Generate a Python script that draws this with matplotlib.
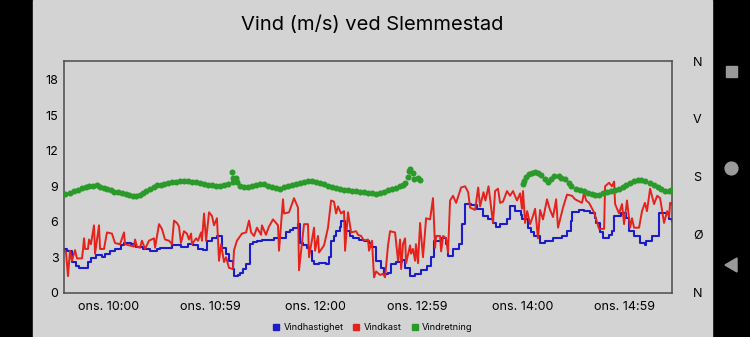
import matplotlib
matplotlib.use("Agg")
import matplotlib.pyplot as plt
from matplotlib.lines import Line2D
from matplotlib.patches import Rectangle, Circle, Polygon

plt.rcParams['font.family'] = ['Inter', 'DejaVu Sans']

# minutes relative to 10:00 (wednesday)
speed_t = [-26, -24, -21, -19, -17, -13, -12, -10, -7, -4, -2, 1, 4, 7, 9, 13, 16, 20, 24, 28,
           30, 33, 37, 42, 46, 49, 52, 55, 57, 60, 63, 66, 68, 70, 72, 73, 75, 76, 78, 80,
           82, 84, 86, 89, 92, 96, 100, 103, 105, 107, 110, 111, 113, 115, 116, 118, 119, 122, 123, 126,
           128, 129, 131, 132, 134, 135, 137, 138, 140, 142, 145, 148, 151, 153, 155, 158, 160, 162, 164, 167,
           170, 172, 175, 178, 181, 185, 187, 189, 193, 196, 197, 200, 203, 205, 207, 210, 214, 217, 220, 223,
           225, 227, 231, 233, 236, 239, 240, 243, 245, 247, 250, 253, 258, 263, 266, 268, 269, 273, 276, 279,
           282, 283, 285, 287, 290, 292, 293, 297, 300, 302, 305, 308, 311, 312, 315, 319, 322, 325, 327]
speed = [3.7, 3.5, 2.6, 2.3, 2.1, 2.1, 2.6, 2.9, 3.2, 3.0, 3.3, 3.5, 3.7, 4.0, 4.2, 4.1, 3.9, 3.7, 3.5, 3.7,
         3.8, 3.8, 4.0, 3.9, 4.1, 4.0, 3.7, 3.6, 4.4, 4.6, 4.8, 3.8, 3.3, 2.7, 2.0, 1.4, 1.5, 1.7, 2.0, 2.4,
         4.1, 4.3, 4.4, 4.5, 4.5, 4.6, 4.6, 5.1, 5.3, 5.5, 5.8, 4.2, 4.0, 3.8, 3.5, 2.7, 2.4, 2.5, 2.5, 2.4,
         3.0, 4.4, 4.8, 5.2, 5.6, 6.1, 5.7, 5.2, 4.8, 4.6, 4.5, 4.4, 4.2, 3.9, 2.7, 2.1, 1.6, 1.7, 2.4, 2.6,
         2.8, 2.1, 1.4, 1.6, 1.9, 2.3, 3.0, 4.4, 4.6, 4.1, 3.1, 3.7, 4.1, 5.8, 7.5, 7.4, 7.1, 6.5, 6.2, 5.9,
         5.6, 5.8, 6.2, 7.3, 6.9, 6.6, 6.2, 5.5, 5.1, 4.8, 4.2, 4.4, 4.6, 4.8, 5.2, 6.1, 6.8, 7.0, 6.9, 6.7,
         6.3, 5.9, 5.1, 4.6, 4.9, 5.2, 6.5, 6.7, 6.3, 5.2, 4.8, 4.2, 4.0, 4.4, 4.8, 6.7, 6.7, 6.2, 6.1]

gust_t = [-26, -24.6, -23.5, -22.3, -21.2, -19.4, -18.3, -15.4, -14.8, -14.2, -13.6, -11.9, -11.3, -10.2, -8.4,
          -7.8, -5.5, -4.9, -2.6, -0.9, 2.0, 3.8, 6.7, 9.0, 9.6, 14.8, 15.4, 16.5, 18.3, 19.4,
          21.2, 23.5, 26.4, 27.0, 29.3, 31.0, 32.8, 35.1, 36.8, 38.0, 39.7, 40.9, 42.0, 43.8, 45.5,
          46.7, 47.9, 48.4, 50.8, 51.9, 53.7, 54.2, 55.4, 56.6, 58.3, 60.0, 61.2, 62.9, 64.1, 65.3,
          67.0, 68.2, 69.9, 72.2, 72.8, 74.5, 77.4, 79.8, 81.5, 82.7, 84.4, 86.1, 88.5, 89.0, 91.3,
          93.1, 95.4, 97.2, 98.3, 98.9, 101.2, 101.8, 104.7, 107.6, 109.9, 110.5, 113.4, 115.7, 116.3, 119.2,
          119.8, 121.5, 122.1, 125.0, 127.3, 129.1, 130.8, 132.0, 133.1, 134.9, 136.6, 137.2, 138.9, 140.7, 143.6,
          144.7, 146.5, 148.2, 150.5, 151.1, 152.8, 154.0, 155.2, 157.5, 159.2, 160.4, 162.1, 163.3, 166.2, 167.9,
          169.1, 169.7, 170.8, 172.0, 172.6, 174.9, 175.5, 176.6, 177.8, 178.3, 179.5, 180.7, 182.4, 184.2, 186.5,
          188.2, 189.4, 190.0, 192.3, 192.9, 194.1, 195.8, 196.9, 198.1, 199.8, 201.6, 204.5, 206.8, 208.6, 209.7,
          212.6, 214.4, 215.5, 217.5, 218.6, 220.4, 223.0, 224.2, 225.9, 227.1, 228.8, 231.1, 232.9, 234.6, 236.9,
          238.7, 239.8, 240.4, 241.6, 242.8, 244.5, 246.2, 247.4, 249.1, 250.3, 252.0, 254.3, 256.1, 257.8, 259.6,
          260.7, 263.6, 265.9, 268.8, 270.6, 274.6, 275.8, 277.0, 278.7, 281.6, 284.5, 287.4, 288.0, 290.3, 292.0,
          293.2, 293.8, 296.1, 297.8, 299.0, 300.7, 302.5, 303.6, 304.8, 307.7, 309.4, 311.1, 312.3, 314.1, 316.4,
          318.2, 319.9, 322.2, 324.0, 325.1, 325.7, 326.8]
gust = [3.7, 3.4, 1.4, 3.55, 2.7, 3.6, 2.9, 2.9, 3.6, 4.6, 3.7, 3.7, 4.5, 4.1, 5.7,
        3.3, 5.7, 3.7, 3.7, 5.1, 5.0, 4.2, 4.1, 5.1, 4.1, 3.9, 4.5, 3.9, 3.8, 4.4,
        3.7, 4.4, 4.6, 3.8, 5.8, 5.4, 4.5, 4.4, 4.1, 6.1, 5.9, 5.6, 4.2, 5.2, 5.0,
        4.5, 5.0, 4.1, 4.6, 4.4, 5.1, 4.4, 6.7, 4.4, 6.8, 6.5, 5.7, 6.3, 2.7, 4.1,
        2.6, 3.0, 2.1, 2.0, 3.6, 4.4, 5.0, 5.1, 6.1, 5.1, 4.8, 5.5, 4.9, 5.7, 4.9,
        5.6, 6.2, 5.9, 5.7, 3.55, 7.9, 6.7, 6.8, 8.0, 7.2, 1.9, 5.8, 5.8, 3.0, 5.5,
        3.55, 4.8, 3.4, 4.0, 5.5, 7.8, 7.7, 6.7, 7.3, 6.7, 6.9, 3.55, 6.8, 5.1, 5.2,
        4.9, 4.8, 4.4, 4.5, 3.55, 4.4, 1.3, 1.8, 1.5, 1.6, 1.3, 4.0, 5.2, 5.1, 2.7,
        4.5, 2.0, 4.1, 4.6, 2.5, 4.0, 3.3, 3.7, 2.7, 4.1, 2.5, 5.9, 3.0, 6.3, 6.2,
        8.0, 3.8, 4.8, 4.8, 3.5, 4.8, 4.6, 3.4, 7.8, 8.2, 7.6, 8.9, 9.0, 8.5, 7.2,
        7.0, 8.9, 7.3, 8.5, 7.8, 9.0, 5.9, 8.6, 8.8, 7.6, 7.7, 8.6, 8.2, 8.6, 7.8,
        8.4, 7.1, 8.6, 5.9, 6.9, 5.8, 6.5, 7.1, 4.6, 7.0, 6.2, 7.9, 7.0, 6.4, 7.9,
        5.5, 7.2, 8.3, 8.2, 7.9, 7.6, 8.45, 7.8, 7.6, 6.8, 5.4, 5.4, 9.0, 9.3, 9.0,
        9.4, 7.5, 6.7, 7.5, 5.8, 7.8, 5.5, 6.3, 5.5, 5.5, 6.9, 7.6, 6.9, 8.8, 7.5,
        8.2, 8.0, 5.9, 6.9, 6.4, 7.6, 7.5]

dir_t = [-25.2, -22.3, -20.0, -17.7, -15.4, -13.1, -11.3, -9.0, -6.7, -4.9, -2.6, -0.9, 1.5, 3.2, 5.5,
         7.8, 10.2, 11.9, 14.2, 15.9, 18.3, 20.0, 21.8, 24.1, 26.4, 28.1, 30.5, 32.2, 34.5, 36.8,
         39.2, 41.5, 43.8, 46.1, 48.4, 50.8, 53.1, 55.4, 57.7, 60.0, 62.4, 64.7, 67.0, 69.3, 71.6,
         72.2, 72.2, 73.9, 74.5, 76.3, 78.6, 80.9, 83.2, 85.6, 87.9, 90.2, 92.5, 94.8, 97.2, 99.5,
         101.8, 104.1, 106.4, 108.8, 111.1, 113.4, 115.7, 118.0, 120.3, 122.7, 125.0, 127.3, 129.6, 132.0, 134.3,
         136.6, 138.9, 141.2, 143.6, 145.9, 148.2, 150.5, 152.8, 155.2, 157.5, 159.8, 162.1, 164.5, 166.8, 169.1,
         170.8, 172.0, 173.7, 174.3, 174.9, 176.6, 177.2, 179.5, 180.7,
         240.4, 241.0, 242.2, 243.9, 245.6, 247.4, 249.1, 250.8, 253.2, 254.9, 256.7, 258.4, 261.0, 262.7, 265.0,
         266.8, 268.5, 270.9, 273.2, 275.6, 277.9, 280.2, 282.2, 284.5, 286.8, 289.2, 291.5, 293.8, 296.1, 298.4,
         300.3, 302.2, 304.5, 306.8, 309.1, 311.4, 313.8, 316.1, 318.4, 320.2, 322.5, 324.8, 326.5]
direction = [154, 155, 158, 160, 163, 165, 166, 166, 168, 165, 163, 161, 160, 157, 157,
             155, 154, 152, 150, 150, 152, 155, 158, 161, 165, 168, 168, 169, 171, 172,
             172, 174, 174, 174, 172, 172, 171, 169, 168, 168, 166, 166, 168, 169, 188,
             178, 172, 178, 172, 166, 165, 165, 166, 168, 169, 169, 166, 165, 163, 161,
             165, 166, 168, 169, 171, 172, 174, 174, 172, 171, 169, 166, 165, 163, 161,
             160, 160, 158, 158, 157, 157, 155, 155, 154, 155, 157, 160, 161, 163, 166,
             168, 171, 180, 189, 192, 186, 177, 178, 175,
             169, 174, 180, 185, 186, 188, 186, 183, 177, 172, 177, 182, 182, 178, 177,
             171, 166, 161, 160, 158, 155, 154, 152, 152, 155, 157, 158, 160, 161, 165,
             168, 171, 174, 175, 175, 174, 171, 168, 165, 161, 158, 158, 160]

tick_pos = [0, 59, 120, 179, 240, 299]
tick_labels = ['ons. 10:00', 'ons. 10:59', 'ons. 12:00', 'ons. 12:59', 'ons. 14:00', 'ons. 14:59']
compass = ['N', 'Ø', 'S', 'V', 'N']

BG = '#d3d3d3'
BLUE = '#1c1cc8'
RED = '#e5221c'
GREEN = '#2a9a2a'
W, H = 750, 337

fig = plt.figure(figsize=(7.5, 3.37), dpi=100)
fig.patch.set_facecolor('black')

# screen frame: grey app area, black side bars, navigation buttons
frame = fig.add_axes([0, 0, 1, 1], zorder=-5)
frame.set_xlim(0, W)
frame.set_ylim(H, 0)
frame.axis('off')
frame.add_patch(Rectangle((33, 0), 679, H, color=BG))
frame.add_patch(Rectangle((725.5, 65.5), 11.5, 11.5, color='#9a9a9a'))
frame.add_patch(Circle((731.5, 168.5), 6.4, color='#9a9a9a'))
frame.add_patch(Polygon([(725, 265), (737, 258), (737, 272)], closed=True, color='#9a9a9a'))

ax = fig.add_axes([64 / W, 1 - 292.7 / H, 608 / W, 231.7 / H])
ax.set_facecolor('none')
ax.step(speed_t, speed, where='post', color=BLUE, lw=1.5)
ax.plot(gust_t, gust, color=RED, lw=1.4)
ax.set_xlim(-25.8, 326.8)
ax.set_ylim(0, 19.6)
ax.set_yticks([0, 3, 6, 9, 12, 15, 18])
ax.set_xticks(tick_pos)
ax.set_xticklabels(tick_labels)
ax.tick_params(axis='both', length=0, labelsize=9, colors='black')
ax.tick_params(axis='y', pad=4)
ax.tick_params(axis='x', pad=6)
for s in ax.spines.values():
    s.set_color('#4a4a4a')
    s.set_linewidth(1.1)

ax2 = ax.twinx()
ax2.scatter(dir_t, direction, s=19, color=GREEN, linewidths=0, zorder=3)
ax2.set_ylim(0, 360)
ax2.set_yticks([0, 90, 180, 270, 360])
ax2.set_yticklabels(compass)
ax2.tick_params(axis='y', length=0, labelsize=9, pad=15)
for s in ax2.spines.values():
    s.set_visible(False)

fig.text(372.5 / W, 1 - 25 / H, 'Vind (m/s) ved Slemmestad', ha='center', va='center', fontsize=14.5)

handles = [Line2D([], [], ls='none', marker='s', ms=4.8, color=c) for c in (BLUE, RED, GREEN)]
fig.legend(handles, ['Vindhastighet', 'Vindkast', 'Vindretning'], loc='center',
           bbox_to_anchor=(372.5 / W, 1 - 328 / H), ncol=3, frameon=False, fontsize=6.6,
           handlelength=0.8, handletextpad=0.4, columnspacing=1.0, borderpad=0)

fig.savefig('out.png', dpi=100, facecolor=fig.get_facecolor())
